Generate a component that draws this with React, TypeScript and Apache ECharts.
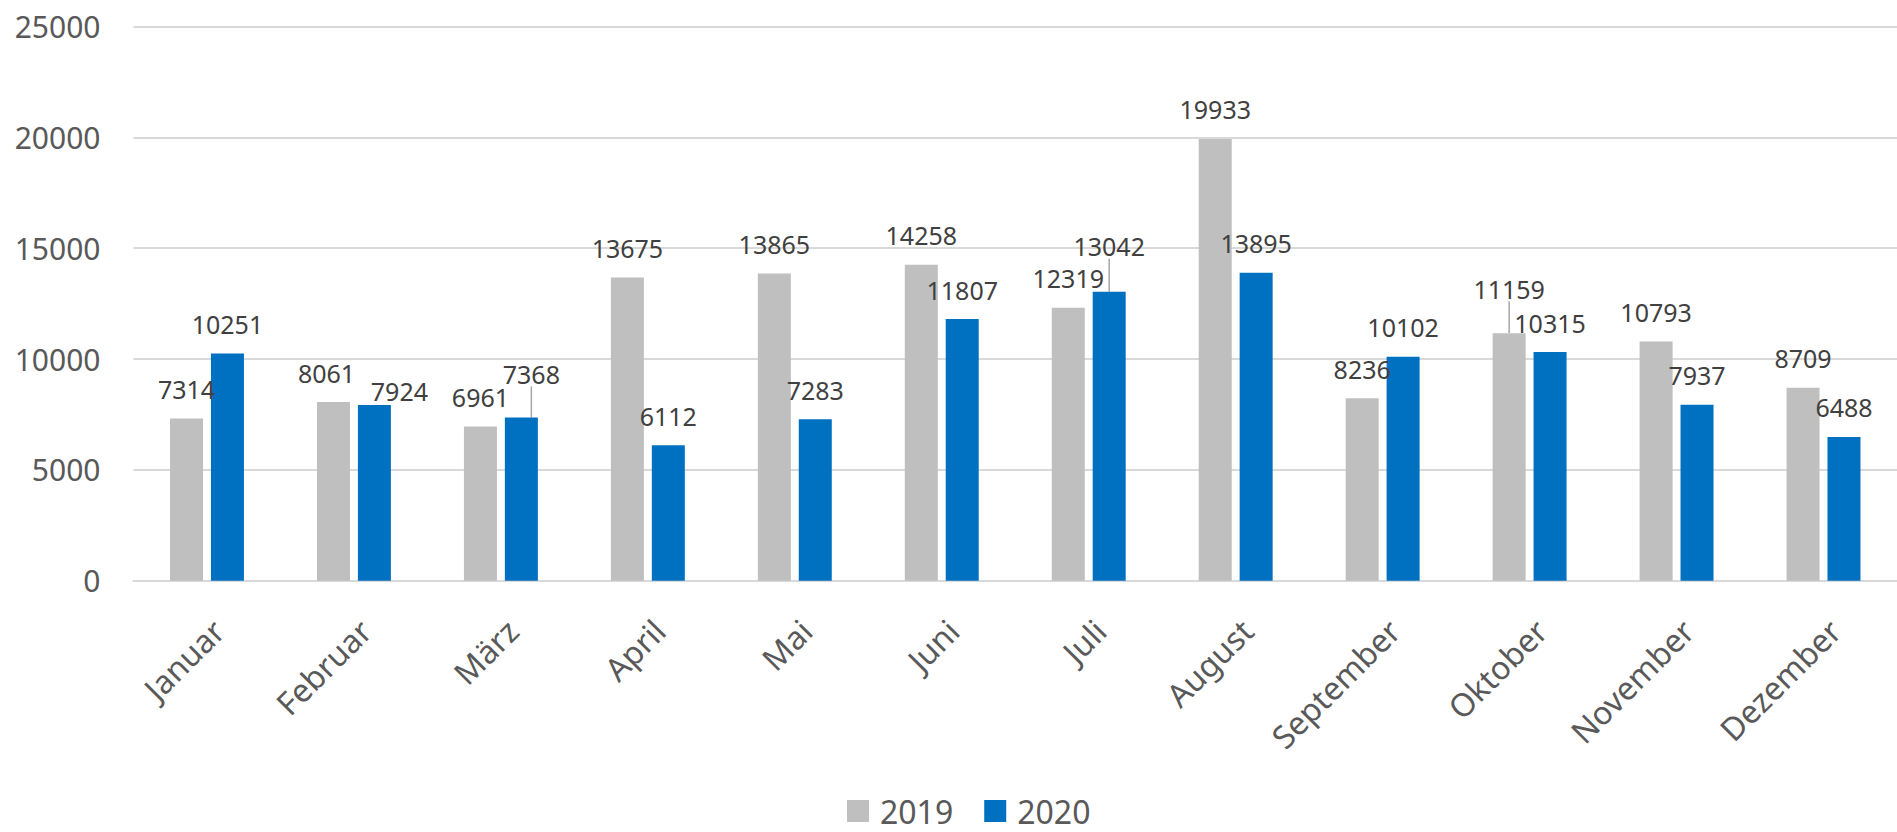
import React, { useEffect, useRef } from "react";
import * as echarts from "echarts";

const months = [
  "Januar", "Februar", "März", "April", "Mai", "Juni",
  "Juli", "August", "September", "Oktober", "November", "Dezember",
];
const values2019 = [7314, 8061, 6961, 13675, 13865, 14258, 12319, 19933, 8236, 11159, 10793, 8709];
const values2020 = [10251, 7924, 7368, 6112, 7283, 11807, 13042, 13895, 10102, 10315, 7937, 6488];
const yTicks = [0, 5000, 10000, 15000, 20000, 25000];

// label nudges (dx, dy) where the original labels were moved by hand
const labelShift2019: [number, number][] = [
  [0, 0], [-7, 0], [0, 0], [0, 0], [0, 0], [0, 0],
  [0, 0], [0, 0], [0, 0], [0, -15], [0, 0], [0, 0],
];
const labelShift2020: [number, number][] = [
  [0, 0], [25, 15], [10, -14], [0, 0], [0, 0], [0, 0],
  [0, -16], [0, 0], [0, 0], [0, 0], [0, 0], [0, 0],
];
const leader2019 = [9];
const leader2020 = [2, 6];

const FONT = "'Noto Sans', sans-serif";

export default function App() {
  const ref = useRef<HTMLDivElement>(null);
  useEffect(() => {
    if (!ref.current) return;
    const chart = echarts.init(ref.current, undefined, { renderer: "svg" });
    const mk = (vals: number[], leaders: number[]) =>
      vals.map((v, i) =>
        leaders.includes(i)
          ? { value: v, labelLine: { show: true, lineStyle: { color: "#A6A6A6", width: 1.5 } } }
          : { value: v }
      );
    const labelCfg = {
      show: true,
      position: "top",
      distance: 17,
      fontSize: 25,
      color: "#404040",
      fontFamily: FONT,
    };
    chart.setOption({
      animation: false,
      backgroundColor: "#ffffff",
      textStyle: { fontFamily: FONT },
      grid: { left: 133.5, right: -12.5, top: 26.6, bottom: 251.3, containLabel: false },
      legend: {
        data: ["2019", "2020"],
        left: 847,
        top: 795,
        padding: 0,
        icon: "rect",
        itemWidth: 22,
        itemHeight: 22,
        itemGap: 31,
        textStyle: {
          fontSize: 32,
          lineHeight: 30,
          color: "#595959",
          fontFamily: FONT,
          padding: [0, 0, 0, 6],
        },
      },
      xAxis: {
        type: "category",
        data: months,
        axisTick: { show: false },
        axisLine: { lineStyle: { color: "#D9D9D9", width: 2 } },
        axisLabel: {
          rotate: 45,
          interval: 0,
          margin: 33,
          verticalAlign: "top",
          fontSize: 32,
          color: "#595959",
          fontFamily: FONT,
        },
      },
      yAxis: {
        type: "value",
        min: yTicks[0],
        max: yTicks[yTicks.length - 1],
        interval: yTicks[1] - yTicks[0],
        axisLine: { show: false },
        axisTick: { show: false },
        splitLine: { lineStyle: { color: "#D9D9D9", width: 2 } },
        axisLabel: {
          fontSize: 30,
          color: "#595959",
          margin: 33,
          fontFamily: FONT,
          formatter: (v: number) => String(v),
        },
      },
      series: [
        {
          name: "2019",
          type: "bar",
          data: mk(values2019, leader2019),
          barWidth: 33,
          barGap: "24%",
          itemStyle: { color: "#BFBFBF" },
          label: labelCfg,
          labelLayout: (p: any) => {
            const s = labelShift2019[p.dataIndex] || [0, 0];
            return { dx: s[0], dy: s[1] };
          },
        },
        {
          name: "2020",
          type: "bar",
          data: mk(values2020, leader2020),
          barWidth: 33,
          barGap: "24%",
          itemStyle: { color: "#0070C0" },
          label: labelCfg,
          labelLayout: (p: any) => {
            const s = labelShift2020[p.dataIndex] || [0, 0];
            return { dx: s[0], dy: s[1] };
          },
        },
      ],
    });
    return () => chart.dispose();
  }, []);
  return (
    <div
      ref={ref}
      style={{ position: "absolute", left: 0, top: 0, width: 1897, height: 832 }}
    />
  );
}
